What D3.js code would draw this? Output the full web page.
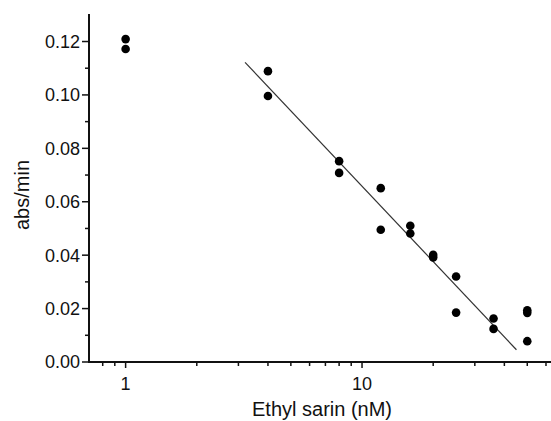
<!DOCTYPE html>
<html>
<head>
<meta charset="utf-8">
<script src="https://cdn.jsdelivr.net/npm/d3@7"></script>
<style>
  body { margin: 0; background: #fff; }
  text { font-family: "Liberation Sans", Arial, sans-serif; fill: #111; }
</style>
</head>
<body>
<svg id="chart" width="551" height="421"></svg>
<script>
// measured points (concentration nM, rate abs/min)
var conc = [1, 1, 4, 4, 8, 8, 12, 12, 16, 16, 20, 20, 25, 25, 36, 36, 50, 50, 50];
var rate = [0.1209, 0.1172, 0.1089, 0.0996, 0.0752, 0.0708, 0.0651, 0.0495,
            0.0510, 0.0481, 0.0401, 0.0391, 0.0320, 0.0185, 0.0163, 0.0124,
            0.0194, 0.0184, 0.0078];

// fitted line end points
var fitX = [3.2, 45];
var fitY = [0.1122, 0.0046];

var xMajor = [1, 10];
var xMinor = [0.8, 0.9, 2, 3, 4, 5, 6, 7, 8, 9, 20, 30, 40, 50, 60];
var yMajor = [0, 0.02, 0.04, 0.06, 0.08, 0.10, 0.12];
var yMinor = [0.01, 0.03, 0.05, 0.07, 0.09, 0.11];

var svg = d3.select("#chart");
var plotL = 89, plotT = 14, plotB = 362, plotR = 551;

var x = d3.scaleLog().domain([0.7, 63]).range([plotL, plotR]);
var y = d3.scaleLinear().domain([0, 0.1303]).range([plotB, plotT]);

// y axis
var yAxis = svg.append("g").attr("transform", "translate(" + plotL + ",0)");
yAxis.append("line")
    .attr("x1", 0).attr("x2", 0)
    .attr("y1", plotT).attr("y2", plotB + 1)
    .attr("stroke", "#111").attr("stroke-width", 2);
yAxis.selectAll(".maj").data(yMajor).enter().append("line")
    .attr("x1", -7).attr("x2", 0)
    .attr("y1", function(d) {return y(d);})
    .attr("y2", function(d) {return y(d);})
    .attr("stroke", "#111").attr("stroke-width", 1.5);
yAxis.selectAll(".min").data(yMinor).enter().append("line")
    .attr("x1", -4).attr("x2", 0)
    .attr("y1", function(d) {return y(d);})
    .attr("y2", function(d) {return y(d);})
    .attr("stroke", "#111").attr("stroke-width", 1.5);
yAxis.selectAll("text").data(yMajor).enter().append("text")
    .attr("x", -9)
    .attr("y", function(d) {return y(d);})
    .attr("dy", "0.36em")
    .attr("text-anchor", "end")
    .style("font-size", "18px")
    .text(function(d) {return d3.format(".2f")(d);});

// x axis
var xAxis = svg.append("g").attr("transform", "translate(0," + plotB + ")");
xAxis.append("line")
    .attr("x1", plotL - 1).attr("x2", plotR)
    .attr("y1", 0).attr("y2", 0)
    .attr("stroke", "#111").attr("stroke-width", 2);
xAxis.selectAll(".maj").data(xMajor).enter().append("line")
    .attr("x1", function(d) {return x(d);})
    .attr("x2", function(d) {return x(d);})
    .attr("y1", 0).attr("y2", 6)
    .attr("stroke", "#111").attr("stroke-width", 1.5);
xAxis.selectAll(".min").data(xMinor).enter().append("line")
    .attr("x1", function(d) {return x(d);})
    .attr("x2", function(d) {return x(d);})
    .attr("y1", 0).attr("y2", 4)
    .attr("stroke", "#111").attr("stroke-width", 1.5);
xAxis.selectAll("text").data(xMajor).enter().append("text")
    .attr("x", function(d) {return x(d);})
    .attr("y", 28)
    .attr("text-anchor", "middle")
    .style("font-size", "18px")
    .text(function(d) {return d;});

// labels
svg.append("text")
    .attr("x", 322).attr("y", 416)
    .attr("text-anchor", "middle")
    .style("font-size", "20px")
    .text("Ethyl sarin (nM)");
svg.append("text")
    .attr("transform", "translate(29,195) rotate(-90)")
    .attr("text-anchor", "middle")
    .style("font-size", "20px")
    .text("abs/min");

// fit line
svg.append("line")
    .attr("x1", x(fitX[0])).attr("y1", y(fitY[0]))
    .attr("x2", x(fitX[1])).attr("y2", y(fitY[1]))
    .attr("stroke", "#333").attr("stroke-width", 1.2);

// points
svg.selectAll("circle").data(d3.range(conc.length)).enter().append("circle")
    .attr("cx", function(i) {return x(conc[i]);})
    .attr("cy", function(i) {return y(rate[i]);})
    .attr("r", 4.3)
    .attr("fill", "#000");
</script>
</body>
</html>
